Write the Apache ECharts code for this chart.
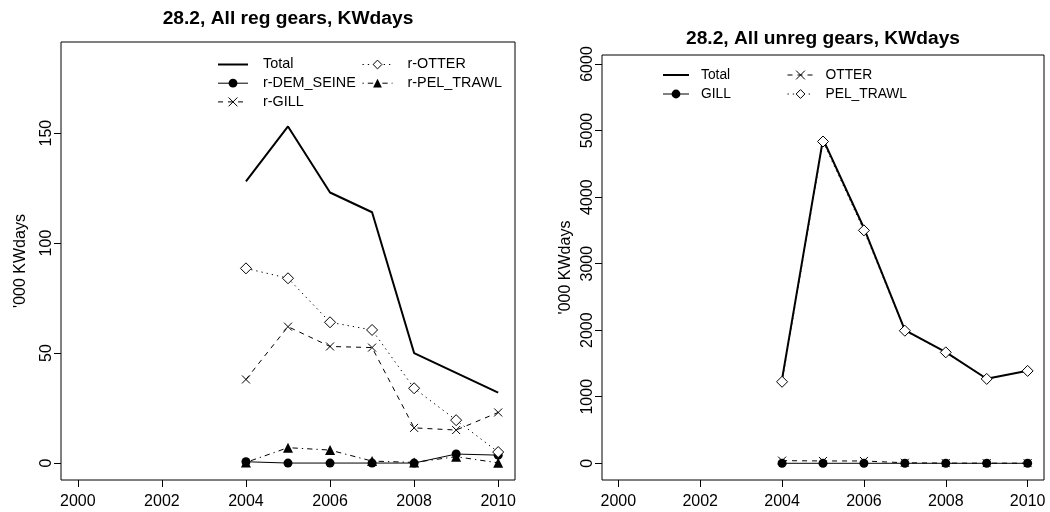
<!DOCTYPE html>
<html><head><meta charset="utf-8">
<script src="https://cdn.jsdelivr.net/npm/echarts@6/dist/echarts.min.js"></script>
<style>html,body{margin:0;padding:0;background:#fff}#c{width:1050px;height:512px}</style>
</head><body><div id="c"></div>
<script>
// ---- data ----
const years = [2004, 2005, 2006, 2007, 2008, 2009, 2010];
const xTicks = [2000, 2002, 2004, 2006, 2008, 2010];

// left panel: 28.2, All reg gears
const regTotal     = [128, 153, 123, 114, 50, 41, 32];
const regDemSeine  = [0.6, 0, 0, 0, 0, 4.1, 3.6];
const regGill      = [38, 62, 53, 52.5, 16, 15, 23];
const regOtter     = [88.5, 84, 64, 60.5, 34, 19.5, 5];
const regPelTrawl  = [0.3, 7, 5.9, 0.9, 0.3, 2.9, 0.1];
const regYTicks    = [0, 50, 100, 150];

// right panel: 28.2, All unreg gears
const unregTotal    = [1265, 4870, 3535, 2000, 1670, 1270, 1390];
const unregGill     = [0, 0, 0, 0, 0, 0, 0];
const unregOtter    = [40, 35, 35, 8, 3, 2, 2];
const unregPelTrawl = [1225, 4835, 3500, 1992, 1667, 1268, 1388];
const unregYTicks   = [0, 1000, 2000, 3000, 4000, 5000, 6000];

const titles = ['28.2, All reg gears, KWdays', '28.2, All unreg gears, KWdays'];
const yName = "'000 KWdays";

// ---- helpers ----
const FONT = 'Liberation Sans, Arial, Helvetica, sans-serif';
const pts = vals => years.map((y, i) => [y, vals[i]]);
const CROSS = 'path://M0,0L10,10M10,0L0,10';
const DASH = [5, 5], DOT = [1.3, 4], DOTDASH = [1.3, 4, 5.3, 4];

function mk(name, vals, gi, opts) {
  return {
    type: 'line', name: name, data: pts(vals),
    xAxisIndex: gi, yAxisIndex: gi,
    symbol: opts.symbol || 'none', symbolSize: opts.size || 8,
    showSymbol: !!opts.symbol,
    lineStyle: { color: '#000', width: opts.width || 1, type: opts.dash || 'solid' },
    itemStyle: opts.item || { color: '#000' },
    emphasis: { disabled: true },
    z: 2
  };
}
const hollow = { color: '#fff', borderColor: '#000', borderWidth: 1 };
const crossStyle = { color: 'none', borderColor: '#000', borderWidth: 1 };

const series = [
  mk('Total', regTotal, 0, { width: 2 }),
  mk('r-DEM_SEINE', regDemSeine, 0, { symbol: 'circle', size: 9 }),
  mk('r-GILL', regGill, 0, { symbol: CROSS, size: 8, dash: DASH, item: crossStyle }),
  mk('r-OTTER', regOtter, 0, { symbol: 'diamond', size: 11, dash: DOT, item: hollow }),
  mk('r-PEL_TRAWL', regPelTrawl, 0, { symbol: 'triangle', size: 10, dash: DOTDASH }),
  mk('Total', unregTotal, 1, { width: 2 }),
  mk('GILL', unregGill, 1, { symbol: 'circle', size: 9 }),
  mk('OTTER', unregOtter, 1, { symbol: CROSS, size: 8, dash: DASH, item: crossStyle }),
  mk('PEL_TRAWL', unregPelTrawl, 1, { symbol: 'diamond', size: 11, dash: DOT, item: hollow })
];

const plain = v => String(v);

function xAxis(gi, min, max) {
  return {
    type: 'value', gridIndex: gi, min: min, max: max,
    axisLine: { show: false, onZero: false },
    splitLine: { show: false },
    axisTick: { show: true, length: 7, lineStyle: { color: '#000' }, customValues: xTicks },
    axisLabel: { customValues: xTicks, formatter: plain, color: '#000', fontSize: 16, fontFamily: FONT, margin: 14 }
  };
}
function yAxis(gi, min, max, ticks, gap) {
  return {
    type: 'value', gridIndex: gi, min: min, max: max,
    name: yName, nameLocation: 'middle', nameRotate: 90, nameGap: gap,
    nameTextStyle: { color: '#000', fontSize: 16, fontFamily: FONT },
    axisLine: { show: false, onZero: false },
    splitLine: { show: false },
    axisTick: { show: true, length: 7, lineStyle: { color: '#000' }, customValues: ticks },
    axisLabel: { customValues: ticks, formatter: plain, rotate: 90, color: '#000', fontSize: 16, fontFamily: FONT, margin: 6 }
  };
}
function legend(left, top, data, fs, w, pad, gap) {
  return {
    left: left, top: top, orient: 'vertical', padding: 0,
    itemWidth: w, itemHeight: 11, itemGap: gap, selectedMode: false,
    lineStyle: { width: 'inherit' },
    itemStyle: { borderWidth: 'inherit' },
    textStyle: { fontSize: fs, fontFamily: FONT, color: '#000', lineHeight: 14, padding: [0, 0, 0, pad] },
    data: data.map(n => n === 'Total' ? { name: n, itemStyle: { opacity: 0 } } : n)
  };
}

const option = {
  animation: false,
  backgroundColor: '#fff',
  title: [
    { text: titles[0], left: 288, top: 9, textAlign: 'center', padding: 0,
      textStyle: { fontSize: 19.2, fontWeight: 'bold', fontFamily: FONT, color: '#000' } },
    { text: titles[1], left: 823, top: 29, textAlign: 'center', padding: 0,
      textStyle: { fontSize: 19.2, fontWeight: 'bold', fontFamily: FONT, color: '#000' } }
  ],
  legend: [
    legend(217, 57.5, ['Total', 'r-DEM_SEINE', 'r-GILL'], 14.4, 30, 10, 4.7),
    legend(362, 57.5, ['r-OTTER', 'r-PEL_TRAWL'], 14.4, 30, 10, 4.7),
    legend(662, 68, ['Total', 'GILL'], 13.8, 26, 7, 5),
    legend(787, 68, ['OTTER', 'PEL_TRAWL'], 13.8, 26, 7, 5)
  ],
  grid: [
    { left: 61, top: 42, width: 454, height: 438, show: true, borderColor: '#000', borderWidth: 1, backgroundColor: 'transparent' },
    { left: 602, top: 55, width: 442, height: 425, show: true, borderColor: '#000', borderWidth: 1, backgroundColor: 'transparent' }
  ],
  xAxis: [xAxis(0, 1999.6, 2010.4), xAxis(1, 1999.6, 2010.4)],
  yAxis: [yAxis(0, -7.7, 191.4, regYTicks, 32), yAxis(1, -251, 6135, unregYTicks, 28)],
  series: series
};

const chart = echarts.init(document.getElementById('c'), null, { renderer: 'canvas' });
chart.setOption(option);
</script>
</body></html>
